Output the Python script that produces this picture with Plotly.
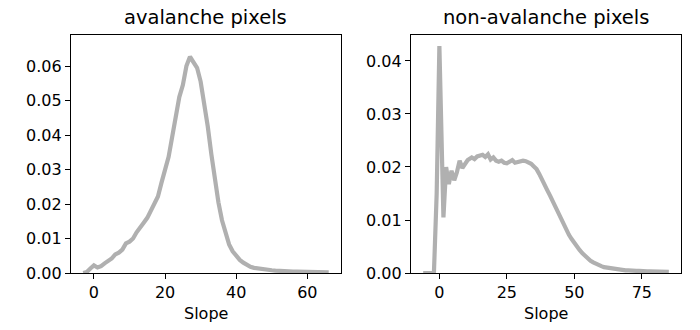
import plotly.graph_objects as go

# avalanche pixels: slope histogram (density)
aval_slope = list(range(-3, 67))
aval_density = [
    0.0000, 0.0003, 0.0013, 0.0022, 0.0016, 0.0020, 0.0028, 0.0035, 0.0042, 0.0054,
    0.0059, 0.0068, 0.0086, 0.0091, 0.0100, 0.0118, 0.0134, 0.0146, 0.0160, 0.0183,
    0.0205, 0.0222, 0.0262, 0.0305, 0.0337, 0.0395, 0.0460, 0.0510, 0.0545, 0.0600,
    0.0627, 0.0612, 0.0595, 0.0555, 0.0495, 0.0425, 0.0345, 0.0265, 0.0205, 0.0153,
    0.0113, 0.0083, 0.0063, 0.0050, 0.0038, 0.0030, 0.0023, 0.0018, 0.0015, 0.0013,
    0.0011, 0.0010, 0.0009, 0.0008, 0.0007, 0.0006, 0.0006, 0.0005, 0.0005, 0.0004,
    0.0004, 0.0004, 0.0003, 0.0003, 0.0003, 0.0003, 0.0002, 0.0002, 0.0002, 0.0002,
]

# non-avalanche pixels
non_slope = [-6, -5, -4, -3, -2, -1, 0, 1.5, 2.5, 3.5, 4.5, 5.5, 6.5, 7.5, 8.5, 9.5, 10.5] + list(range(12, 86))
non_density = [
    0.0000, 0.0000, 0.0000, 0.0000, 0.0003, 0.0150, 0.0428, 0.0105, 0.0200, 0.0168,
    0.0193, 0.0175, 0.0190, 0.0212, 0.0198, 0.0205, 0.0213,
    0.0218, 0.0215, 0.0220, 0.0221, 0.0223, 0.0219, 0.0224, 0.0214, 0.0218, 0.0212,
    0.0210, 0.0212, 0.0208, 0.0207, 0.0210, 0.0213, 0.0208, 0.0210, 0.0211, 0.0212,
    0.0211, 0.0209, 0.0206, 0.0201, 0.0196, 0.0187, 0.0178, 0.0167, 0.0156, 0.0146,
    0.0135, 0.0124, 0.0113, 0.0102, 0.0091, 0.0082, 0.0072, 0.0064, 0.0056, 0.0049,
    0.0043, 0.0037, 0.0032, 0.0027, 0.0023, 0.0020, 0.0017, 0.0015, 0.0013, 0.0011,
    0.0010, 0.0009, 0.0008, 0.0007, 0.0006, 0.0006, 0.0005, 0.0005, 0.0005, 0.0004,
    0.0004, 0.0004, 0.0004, 0.0003, 0.0003, 0.0003, 0.0003, 0.0003, 0.0003, 0.0003,
    0.0002, 0.0002, 0.0002, 0.0002, 0.0002, 0.0002,
]

titles = ["avalanche pixels", "non-avalanche pixels"]
xlabel = "Slope"
line_col = "#b0b0b0"
font = dict(family="DejaVu Sans", size=16, color="black")
title_font = dict(family="DejaVu Sans", size=19.5, color="black")

fig = go.Figure()
fig.add_trace(go.Scatter(x=aval_slope, y=aval_density, mode="lines",
                         line=dict(color=line_col, width=4.2), xaxis="x", yaxis="y"))
fig.add_trace(go.Scatter(x=non_slope, y=non_density, mode="lines",
                         line=dict(color=line_col, width=4.2), xaxis="x2", yaxis="y2"))

ax = dict(showline=True, mirror=True, linecolor="black", linewidth=1.1,
          ticks="outside", ticklen=5, tickwidth=1.1, tickcolor="black",
          showgrid=False, zeroline=False, tickfont=font, automargin=False)

xdom1 = [0.1014, 0.4871]
xdom2 = [0.587, 0.973]
ydom = [0.1727, 0.8939]
fig.update_layout(
    width=700, height=330,
    margin=dict(l=0, r=0, t=0, b=0),
    plot_bgcolor="white", paper_bgcolor="white",
    showlegend=False,
    font=font,
    xaxis=dict(ax, domain=xdom1, range=[-6.45, 69.45], dtick=20),
    yaxis=dict(ax, domain=ydom, range=[0, 0.069], dtick=0.01,
               tickformat=".2f", anchor="x"),
    xaxis2=dict(ax, domain=xdom2, range=[-10.55, 89.55], dtick=25, anchor="y2"),
    yaxis2=dict(ax, domain=ydom, range=[0, 0.0449], dtick=0.01,
                tickformat=".2f", anchor="x2"),
    annotations=[
        dict(text=titles[0], x=sum(xdom1) / 2, y=ydom[1], xref="paper", yref="paper",
             xanchor="center", yanchor="bottom", yshift=4, showarrow=False,
             font=title_font),
        dict(text=titles[1], x=sum(xdom2) / 2, y=ydom[1], xref="paper", yref="paper",
             xanchor="center", yanchor="bottom", yshift=4, showarrow=False,
             font=title_font),
        dict(text=xlabel, x=sum(xdom1) / 2, y=ydom[0], xref="paper", yref="paper",
             xanchor="center", yanchor="middle", yshift=-40, showarrow=False,
             font=font),
        dict(text=xlabel, x=sum(xdom2) / 2, y=ydom[0], xref="paper", yref="paper",
             xanchor="center", yanchor="middle", yshift=-40, showarrow=False,
             font=font),
    ],
)

# drop the browser's default 8px body margin so the figure fills the window
fig.write_html("out.html", config={"displayModeBar": False},
               post_script="document.body.style.margin='0';")
